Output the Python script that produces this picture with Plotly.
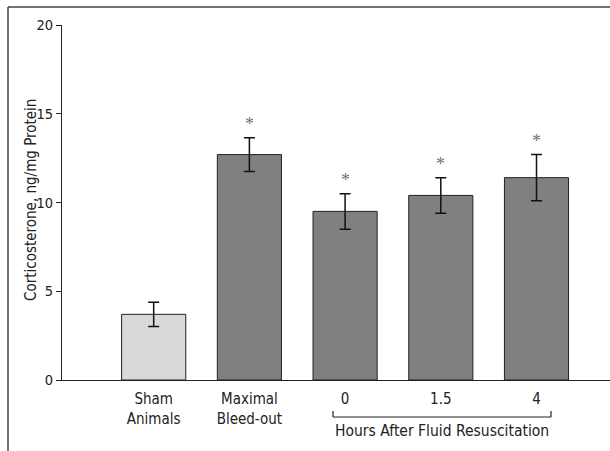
import plotly.graph_objects as go

categories = ["Sham<br>Animals", "Maximal<br>Bleed-out", "0", "1.5", "4"]
values = [3.7, 12.7, 9.5, 10.4, 11.4]
errors = [0.68, 0.95, 1.0, 1.0, 1.3]
significant = [False, True, True, True, True]
bar_colors = ["#d9d9d9", "#808080", "#808080", "#808080", "#808080"]
y_ticks = [0, 5, 10, 15, 20]
group_label = "Hours After Fluid Resuscitation"
y_title = "Corticosterone, ng/mg Protein"

FONT = "DejaVu Sans Condensed, Liberation Sans Narrow, sans-serif"
W, H = 610, 451
ML, MR, MT, MB = 62, 0, 25, 71
PW, PH = W - ML - MR, H - MT - MB

def px_x(x):
    return (x - ML) / PW

def px_y(y):
    return (H - MB - y) / PH

xs = list(range(len(categories)))

fig = go.Figure()
fig.add_trace(go.Bar(
    x=xs, y=values, width=0.67,
    marker=dict(color=bar_colors, line=dict(color="#222222", width=1)),
    error_y=dict(type="data", array=errors, visible=True, color="#111111",
                 thickness=1.5, width=5.5),
    showlegend=False,
))

for x, v, e, s in zip(xs, values, errors, significant):
    if s:
        fig.add_annotation(x=x, y=v + e, text="*", showarrow=False,
                           yanchor="bottom", yshift=2,
                           font=dict(family="Liberation Serif, serif", size=18, color="#707070"))

# bracket under the hours groups
bx0, bx1, by = px_x(333), px_x(551), px_y(417)
byt = px_y(411)
for (xa, xb, ya, yb) in [(bx0, bx1, by, by), (bx0, bx0, by, byt), (bx1, bx1, by, byt)]:
    fig.add_shape(type="line", xref="paper", yref="paper", x0=xa, x1=xb, y0=ya, y1=yb,
                  line=dict(color="#222222", width=1.2))
fig.add_annotation(xref="paper", yref="paper", x=px_x(442), y=px_y(431), text=group_label,
                   showarrow=False, xanchor="center", yanchor="middle",
                   font=dict(family=FONT, size=15.5, color="#222222"))

# y-axis title
fig.add_annotation(xref="paper", yref="paper", x=px_x(31), y=px_y(200), text=y_title,
                   showarrow=False, textangle=-90, xanchor="center", yanchor="middle",
                   font=dict(family=FONT, size=15, color="#222222"))

# outer frame (top and left)
fx, fy = px_x(8), px_y(7)
fig.add_shape(type="line", xref="paper", yref="paper", x0=fx, x1=1.2, y0=fy, y1=fy,
              line=dict(color="#444444", width=1.5))
fig.add_shape(type="line", xref="paper", yref="paper", x0=fx, x1=fx, y0=fy, y1=px_y(460),
              line=dict(color="#444444", width=1.5))

fig.update_layout(
    width=W, height=H,
    margin=dict(l=ML, r=MR, t=MT, b=MB),
    paper_bgcolor="white", plot_bgcolor="white",
    font=dict(family=FONT, size=14, color="#222222"),
    xaxis=dict(range=[-0.958, 4.768], tickmode="array", tickvals=xs, ticktext=categories,
               showline=True, linecolor="#222222", linewidth=1.2, ticks="",
               ticklabelstandoff=5,
               showgrid=False, zeroline=False, tickfont=dict(size=15)),
    yaxis=dict(range=[0, 20], tickmode="array", tickvals=y_ticks,
               showline=True, linecolor="#222222", linewidth=1.2,
               ticks="outside", ticklen=5, tickwidth=1.2, tickcolor="#222222",
               showgrid=False, zeroline=False, tickfont=dict(size=14.5)),
    bargap=0.33,
)

fig.write_html("out.html")
